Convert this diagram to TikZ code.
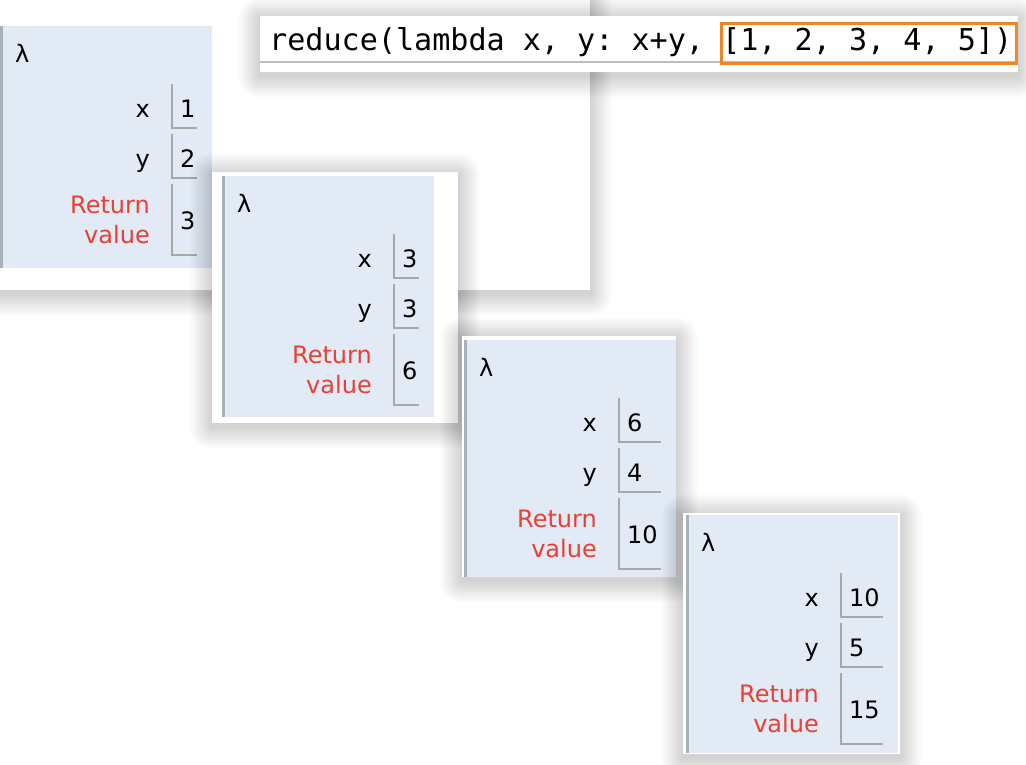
\documentclass[tikz,border=0pt]{standalone}
\usepackage{fontspec}
\setmainfont{DejaVu Sans}
\newfontfamily\codefont{DejaVu Sans Mono}
\definecolor{panelblue}{HTML}{E2EAF5}
\definecolor{barcol}{HTML}{A6B3B6}
\definecolor{boxline}{HTML}{A8A8A8}
\definecolor{retred}{HTML}{E93F34}
\definecolor{hiorange}{HTML}{F08526}
\definecolor{codeline}{HTML}{BDBDBD}
\tikzset{
  lam/.style={anchor=base west,inner sep=0pt,font=\fontsize{24}{30}\selectfont},
  lbl/.style={anchor=base east,inner sep=0pt,font=\fontsize{24}{30}\selectfont},
  retlbl/.style={anchor=base east,inner sep=0pt,align=right,text=retred,font=\fontsize{24}{30}\selectfont},
  val/.style={anchor=base west,inner sep=0pt,font=\fontsize{24}{30}\selectfont},
  vline/.style={draw=boxline,line width=2pt},
  panel/.style={fill=panelblue},
  bar/.style={fill=barcol},
  whitebox/.style={fill=white},
}
% soft shadow around a rectangle
\newcommand\softshadow[4]{%
  \foreach \i in {1,...,22}{%
    \fill[black,opacity=0.0075,rounded corners=\i pt] ({#1-\i},{#2-\i+3}) rectangle ({#3+\i},{#4+\i+4});
  }%
}
% frame: name, x, y, xval, yval, rv, box left (rel), label right (rel), height
\newcommand\pyframe[9]{%
  \fill[panel] (#2,#3) rectangle ({#2+212},{#3+#9});
  \fill[bar] (#2,#3) rectangle ({#2+2.5},{#3+#9});
  \node[lam] (#1-lambda) at ({#2+15},{#3+36}) {λ};
  \node[lbl] (#1-xl) at ({#2+#8},{#3+91}) {x};
  \node[val] (#1-xv) at ({#2+#7+8},{#3+91}) {#4};
  \draw[vline] ({#2+#7},{#3+58}) -- ({#2+#7},{#3+102}) -- ({#2+197},{#3+102});
  \node[lbl] (#1-yl) at ({#2+#8},{#3+141}) {y};
  \node[val] (#1-yv) at ({#2+#7+8},{#3+141}) {#5};
  \draw[vline] ({#2+#7},{#3+108}) -- ({#2+#7},{#3+152}) -- ({#2+197},{#3+152});
  \node[retlbl] (#1-rl) at ({#2+#8},{#3+217}) {Return\\value};
  \node[val] (#1-rv) at ({#2+#7+8},{#3+203}) {#6};
  \draw[vline] ({#2+#7},{#3+158}) -- ({#2+#7},{#3+229}) -- ({#2+197},{#3+229});
}
\begin{document}
\begin{tikzpicture}[x=1pt,y=-1pt]
\useasboundingbox (0,0) rectangle (1026,764);
\clip (0,0) rectangle (1026,764);
\fill[white] (0,0) rectangle (1026,764);
% big panel behind frame 1
\softshadow{-20}{-20}{590}{290}
\fill[whitebox] (-20,-20) rectangle (590,290);
\pyframe{f1}{0}{26}{1}{2}{3}{172}{150}{242}
% code box
\softshadow{260}{16}{1018}{72}
\fill[whitebox] (260,16) rectangle (1018,72);
\draw[codeline,line width=2pt] (260,62) -- (1018,62);
\node[anchor=base west,inner sep=0pt,font=\codefont\fontsize{30.1}{30}\selectfont\frenchspacing] (code) at (269,50) {reduce(lambda x, y: x+y, [1, 2, 3, 4, 5])};
\node[draw=hiorange,line width=2.5pt,minimum width=295pt,minimum height=40pt,inner sep=0pt,anchor=north west] (hilite) at (720,22) {};
% frame 2
\softshadow{212}{172}{458}{423}
\fill[whitebox] (212,172) rectangle (458,423);
\pyframe{f2}{222}{176}{3}{3}{6}{172}{150}{241}
% frame 3
\softshadow{462}{336}{676}{577}
\fill[whitebox] (462,336) rectangle (676,577);
\pyframe{f3}{464}{340}{6}{4}{10}{155}{133}{237}
% frame 4
\softshadow{683}{513}{900}{754}
\fill[whitebox] (683,513) rectangle (900,754);
\pyframe{f4}{686}{515}{10}{5}{15}{155}{133}{238}
\end{tikzpicture}
\end{document}
